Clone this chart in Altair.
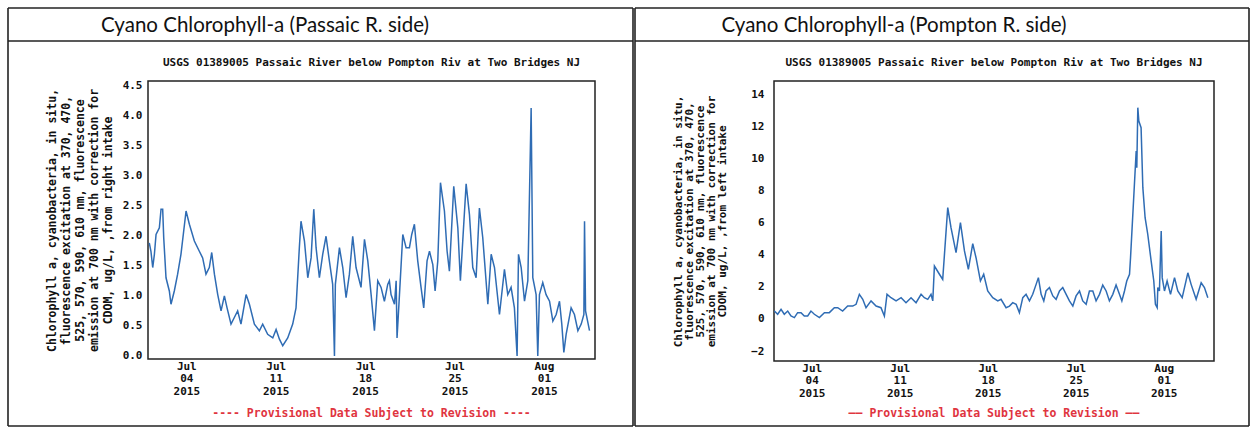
import altair as alt
import pandas as pd

# ---------------- data (days since 2015-07-01 00:00, value ug/L) ----------------
L_DAY = [0.10, 0.23, 0.37, 0.50, 0.63, 0.89, 1.02, 1.15, 1.23, 1.41, 1.67, 1.80, 2.06, 2.32, 2.58,
         2.98, 3.24, 3.63, 4.02, 4.28, 4.54, 4.80, 4.99, 5.20, 5.46, 5.72, 5.98, 6.19, 6.50, 6.76,
         7.02, 7.28, 7.68, 7.94, 8.33, 8.72, 8.98, 9.37, 9.77, 10.03, 10.29, 10.55, 10.94, 11.33,
         11.59, 11.85, 11.98, 12.25, 12.51, 12.77, 12.98, 13.16, 13.42, 13.68, 13.94, 14.20, 14.46,
         14.60, 14.67, 14.99, 15.25, 15.51, 15.77, 16.03, 16.29, 16.68, 16.95, 17.21, 17.47, 17.73,
         17.99, 18.25, 18.51, 18.77, 18.90, 19.03, 19.30, 19.43, 19.50, 19.69, 19.95, 20.21, 20.47,
         20.65, 20.86, 21.12, 21.38, 21.59, 21.85, 22.04, 22.30, 22.48, 22.69, 22.90, 23.21, 23.42,
         23.60, 23.94, 24.26, 24.46, 24.91, 25.17, 25.43, 25.69, 25.95, 26.21, 26.61, 26.87, 27.13,
         27.52, 27.91, 28.17, 28.43, 28.69, 28.90, 29.01, 29.22, 29.48, 29.74, 30.00, 30.13, 30.39,
         30.52, 30.65, 30.91, 31.17, 31.44, 31.70, 31.96, 32.22, 32.40, 32.56, 32.74, 33.13, 33.39,
         33.66, 33.92, 34.13, 34.18, 34.26, 34.57]
L_VAL = [1.88, 1.74, 1.47, 1.69, 2.02, 2.13, 2.44, 2.44, 1.97, 1.30, 1.08, 0.86, 1.08, 1.36, 1.69,
         2.41, 2.19, 1.91, 1.74, 1.63, 1.36, 1.47, 1.72, 1.36, 1.02, 0.75, 1.00, 0.80, 0.53, 0.64,
         0.75, 0.53, 1.02, 0.86, 0.53, 0.42, 0.53, 0.36, 0.30, 0.44, 0.28, 0.17, 0.30, 0.53,
         0.80, 1.80, 2.24, 1.91, 1.30, 1.63, 2.44, 1.80, 1.30, 1.69, 1.99, 1.58, 1.19,
         0.00, 1.19, 1.80, 1.47, 0.97, 1.36, 1.99, 1.47, 1.14, 1.94, 1.58, 1.02, 0.42,
         1.25, 1.14, 0.91, 1.19, 1.25, 1.02, 0.86, 1.25, 0.30, 1.02, 2.02, 1.80, 1.80,
         2.02, 2.19, 1.58, 1.14, 0.80, 1.58, 1.74, 1.52, 1.08, 1.58, 2.88, 2.41, 1.74,
         1.41, 2.82, 2.13, 1.25, 2.86, 2.35, 1.47, 1.30, 2.46, 1.97, 0.86, 1.69, 1.47,
         0.69, 1.44, 1.02, 1.14, 0.80, 0.00, 1.69, 1.47, 0.91, 1.25, 4.12, 1.30, 1.02,
         0.00, 1.02, 1.22, 1.02, 0.91, 0.58, 0.69, 0.91, 0.53, 0.06, 0.36, 0.80, 0.69,
         0.42, 0.53, 0.69, 2.24, 0.75, 0.42]

R_DAY = [0.03, 0.29, 0.56, 0.82, 1.09, 1.35, 1.62, 1.88, 2.15, 2.41, 2.68, 2.94, 3.21, 3.61, 4.01,
         4.40, 4.80, 5.07, 5.46, 5.86, 6.26, 6.53, 6.79, 7.06, 7.32, 7.72, 8.12, 8.51, 8.78, 8.99,
         9.31, 9.71, 10.11, 10.50, 10.90, 11.30, 11.70, 11.96, 12.23, 12.49, 12.63, 12.76, 13.16,
         13.42, 13.82, 14.08, 14.48, 14.83, 15.15, 15.46, 15.81, 16.07, 16.42, 16.68, 17.00, 17.40,
         17.80, 18.06, 18.46, 18.73, 18.99, 19.26, 19.52, 19.79, 20.05, 20.32, 20.58, 20.85, 21.03,
         21.25, 21.46, 21.64, 21.91, 22.18, 22.44, 22.71, 22.97, 23.24, 23.50, 23.77, 24.03, 24.30,
         24.56, 24.83, 25.09, 25.36, 25.62, 25.89, 26.15, 26.42, 26.68, 26.95, 27.21, 27.48, 27.67,
         27.88, 28.06, 28.28, 28.36, 28.81, 28.86, 28.94, 29.02, 29.20, 29.34, 29.52, 29.73, 30.00,
         30.21, 30.34, 30.48, 30.53, 30.66, 30.80, 30.88, 31.06, 31.27, 31.54, 31.86, 32.12, 32.47,
         32.92, 33.18, 33.58, 33.98, 34.24, 34.51]
R_VAL = [0.49, 0.29, 0.60, 0.29, 0.49, 0.18, 0.08, 0.39, 0.39, 0.18, 0.18, 0.49, 0.29, 0.08, 0.39,
         0.39, 0.70, 0.70, 0.49, 0.80, 0.80, 0.91, 1.53, 1.22, 0.70, 1.12, 0.80, 0.70, 0.18, 1.53,
         1.32, 1.12, 1.32, 1.01, 1.32, 1.01, 1.53, 1.32, 1.22, 1.53, 1.12, 3.29, 2.78,
         2.46, 6.93, 5.68, 4.12, 5.99, 4.23, 3.09, 4.68, 3.81, 2.36, 2.78, 1.74, 1.32,
         1.12, 1.22, 0.70, 0.80, 1.01, 0.91, 0.39, 1.32, 1.53, 1.12, 1.53, 2.15, 2.57,
         1.53, 1.12, 1.74, 1.95, 1.43, 1.22, 1.74, 1.95, 1.53, 1.12, 0.80, 1.43, 1.74,
         1.12, 0.91, 1.74, 1.74, 1.12, 1.53, 2.11, 1.74, 1.12, 1.53, 2.11, 1.53, 1.12,
         1.74, 2.36, 2.78, 3.81, 10.45, 9.41, 13.15, 12.32, 11.90, 8.17, 6.30, 5.27, 3.61,
         2.36, 0.91, 0.70, 1.95, 1.74, 5.47, 2.57, 1.74, 2.36, 1.53, 2.57, 1.74, 1.32,
         2.87, 2.15, 1.22, 2.25, 1.95, 1.32]

TICK_DATES = [(7, 4), (7, 11), (7, 18), (7, 25), (8, 1)]
LEFT_TICKS = [0.0, 0.5, 1.0, 1.5, 2.0, 2.5, 3.0, 3.5, 4.0, 4.5]
RIGHT_TICKS = [-2, 0, 2, 4, 6, 8, 10, 12, 14]

HEADER_L = "Cyano Chlorophyll-a (Passaic R. side)"
HEADER_R = "Cyano Chlorophyll-a (Pompton R. side)"
SITE = "USGS 01389005 Passaic River below Pompton Riv at Two Bridges NJ"
PROV_L = "---- Provisional Data Subject to Revision ----"
PROV_R = "—— Provisional Data Subject to Revision ——"
YT_COMMON = ["Chlorophyll a, cyanobacteria, in situ,",
             "fluorescence excitation at 370, 470,",
             "525, 570, 590, 610 nm, fluorescence",
             "emission at 700 nm with correction for"]
YT_L = YT_COMMON + ["CDOM, ug/L, ,from right intake"]
YT_R = YT_COMMON + ["CDOM, ug/L, ,from left intake"]


def to_df(days, vals):
    t = pd.Timestamp("2015-07-01") + pd.to_timedelta(days, unit="D")
    return pd.DataFrame({"time": t.strftime("%Y-%m-%dT%H:%M:%S"), "value": vals})


MONO = "DejaVu Sans Mono"
LINE_COLOR = "#2f6cb4"
FRAME = "#222222"
one = pd.DataFrame({"k": [0]})

label_expr = "[timeFormat(datum.value, '%b'), timeFormat(datum.value, '%d'), timeFormat(datum.value, '%Y')]"
x_ticks = [alt.DateTime(year=2015, month=m, date=d) for m, d in TICK_DATES]
x_domain = [alt.DateTime(year=2015, month=7, date=1), alt.DateTime(year=2015, month=8, date=5)]


def panel(df, w, h, ydom, yticks, yfmt, ytitle, tsize, tline, tpad, lpad, header, header_x, prov,
          left_b, right_b):
    line = alt.Chart(df).mark_line(color=LINE_COLOR, strokeWidth=1.5).encode(
        x=alt.X("time:T", scale=alt.Scale(domain=x_domain),
                axis=alt.Axis(values=x_ticks, labelExpr=label_expr, title=None,
                              labelLineHeight=12.5, labelPadding=1, labelBaseline="top")),
        y=alt.Y("value:Q", scale=alt.Scale(domain=ydom, nice=False, zero=False),
                axis=alt.Axis(values=yticks, format=yfmt, title=ytitle,
                              titleLineHeight=tline, titlePadding=tpad, labelPadding=lpad,
                              titleFontSize=tsize)),
    )

    def hrule(x1, x2, y, sw=1.6):
        return alt.Chart(one).mark_rule(color=FRAME, strokeWidth=sw).encode(
            x=alt.value(x1), x2=alt.value(x2), y=alt.value(y))

    def vrule(x, y1, y2, sw=1.6):
        return alt.Chart(one).mark_rule(color=FRAME, strokeWidth=sw).encode(
            x=alt.value(x), y=alt.value(y1), y2=alt.value(y2))

    top, hdr, bot = -73, -40, 345
    frame = [hrule(left_b, right_b, top), hrule(left_b, right_b, hdr),
             hrule(left_b, right_b, bot), vrule(left_b, top, bot), vrule(right_b, top, bot)]

    head = alt.Chart(one).mark_text(font="Lato", fontSize=20.5, color="#111",
                                    align="center", baseline="alphabetic").encode(
        x=alt.value(header_x), y=alt.value(-49), text=alt.value(header))
    site = alt.Chart(one).mark_text(font=MONO, fontWeight="bold", fontSize=11, color="#111",
                                    align="center", baseline="middle").encode(
        x=alt.value(w / 2), y=alt.value(-18), text=alt.value(SITE))
    provt = alt.Chart(one).mark_text(font=MONO, fontWeight="bold", fontSize=11.5, color="#e0353f",
                                     align="center", baseline="middle").encode(
        x=alt.value(w / 2), y=alt.value(333), text=alt.value(prov))

    return alt.layer(line, *frame, head, site, provt).properties(width=w, height=h)


left = panel(to_df(L_DAY, L_VAL), 447, 278, [-0.05, 4.57], LEFT_TICKS, ".1f", YT_L,
             11.5, 14, 9, 6, HEADER_L, 117, PROV_L, -140, 485)
right = panel(to_df(R_DAY, R_VAL), 440, 280, [-2.62, 14.81], RIGHT_TICKS, "d", YT_R,
              11, 11, 23, 10, HEADER_R, 120, PROV_R, -139, 475)

chart = alt.hconcat(left, right, spacing=179, bounds="flush").properties(
    padding={"left": 6, "top": 6, "right": 0, "bottom": 0},
    background="white",
).configure_view(stroke=FRAME, strokeWidth=1.5).configure_axis(
    labelFont=MONO, labelFontWeight="bold", labelFontSize=11, labelColor="#111",
    titleFont=MONO, titleFontWeight="bold", titleFontSize=11, titleColor="#111",
    domain=False, ticks=False, grid=False
)

chart.save("out.html", embed_options={"renderer": "svg", "actions": False})
